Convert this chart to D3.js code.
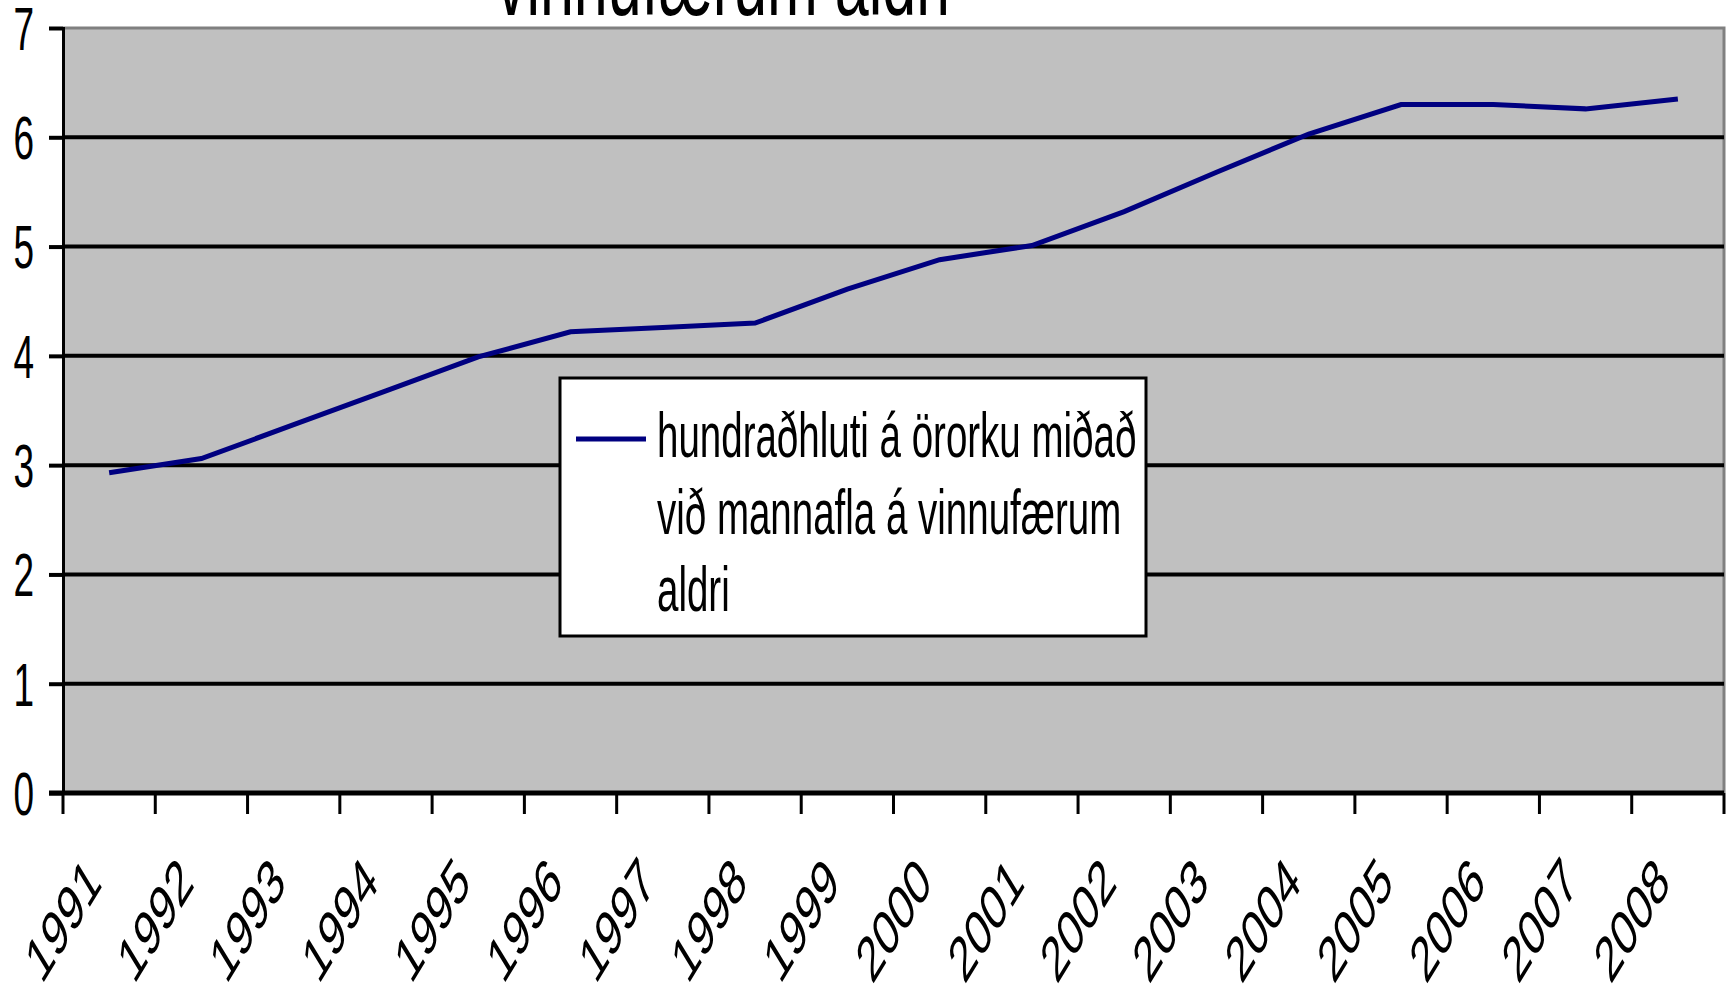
<!DOCTYPE html>
<html>
<head>
<meta charset="utf-8">
<script src="https://cdn.jsdelivr.net/npm/d3@7"></script>
<style>
  body { margin: 0; background: #fff; }
  text { font-family: "Liberation Sans", Arial, sans-serif; fill: #000; }
</style>
</head>
<body>
<div id="chart"></div>
<script>
// data
const years = ["1991","1992","1993","1994","1995","1996","1997","1998","1999",
               "2000","2001","2002","2003","2004","2005","2006","2007","2008"];
const values = [2.93, 3.06, 3.37, 3.68, 3.99, 4.22, 4.26, 4.30, 4.61,
                4.88, 5.01, 5.32, 5.68, 6.03, 6.30, 6.30, 6.26, 6.35];
const yTicks = [0, 1, 2, 3, 4, 5, 6, 7];
const titleLine = "vinnufærum aldri";
const legendLines = ["hundraðhluti á örorku miðað", "við mannafla á vinnufærum", "aldri"];

const width = 1736, height = 993;
const plot = {left: 63, right: 1724, top: 28, bottom: 793};
const stretch = 1.64; // the original picture is stretched vertically

const svg = d3.select("#chart").append("svg")
  .attr("width", width)
  .attr("height", height);

const x = d3.scaleBand().domain(years).range([plot.left, plot.right]);
const y = d3.scaleLinear().domain([0, 7]).range([plot.bottom, plot.top]);

// plot area
svg.append("rect")
  .attr("x", plot.left).attr("y", plot.top)
  .attr("width", plot.right - plot.left).attr("height", plot.bottom - plot.top)
  .attr("fill", "#c0c0c0");

// top and right border
svg.append("path")
  .attr("d", `M${plot.left},${plot.top}H${plot.right}V${plot.bottom}`)
  .attr("fill", "none").attr("stroke", "#808080").attr("stroke-width", 3);

// gridlines
svg.append("g").selectAll("line")
  .data(yTicks.filter(d => d > 0 && d < 7))
  .enter().append("line")
    .attr("x1", plot.left).attr("x2", plot.right)
    .attr("y1", d => y(d)).attr("y2", d => y(d))
    .attr("stroke", "#000").attr("stroke-width", 4);

// y axis
const yAxis = svg.append("g")
  .attr("transform", `translate(${plot.left},0)`)
  .call(d3.axisLeft(y).tickValues(yTicks).tickSize(14).tickFormat(""));
yAxis.selectAll("path").attr("stroke", "#000").attr("stroke-width", 3);
yAxis.selectAll(".tick line").attr("stroke", "#000").attr("stroke-width", 4);

svg.append("g").selectAll("text")
  .data(yTicks)
  .enter().append("text")
    .attr("transform", d => `translate(34,${y(d)}) scale(1,${stretch})`)
    .attr("text-anchor", "end")
    .attr("dy", "0.36em")
    .style("font-size", "37px")
    .text(d => d);

// x axis, ticks between categories
const xEdges = years.map(d => x(d)).concat([plot.right]);
svg.append("g").selectAll("line")
  .data(xEdges)
  .enter().append("line")
    .attr("x1", d => d).attr("x2", d => d)
    .attr("y1", plot.bottom).attr("y2", plot.bottom + 21)
    .attr("stroke", "#000").attr("stroke-width", 3);
svg.append("line")
  .attr("x1", plot.left - 14).attr("x2", plot.right)
  .attr("y1", plot.bottom).attr("y2", plot.bottom)
  .attr("stroke", "#000").attr("stroke-width", 5);

svg.append("g").selectAll("text")
  .data(years)
  .enter().append("text")
    .attr("transform", d => `translate(${x(d) + x.bandwidth() / 2 - 6},885) scale(1,${stretch}) rotate(-45)`)
    .attr("text-anchor", "end")
    .style("font-size", "39px")
    .text(d => d);

// the series
const line = d3.line()
  .x((d, i) => x(years[i]) + x.bandwidth() / 2)
  .y(d => y(d));
svg.append("path")
  .datum(values)
  .attr("d", line)
  .attr("fill", "none")
  .attr("stroke", "#000080")
  .attr("stroke-width", 5);

// legend
const lg = svg.append("g");
lg.append("rect")
  .attr("x", 560).attr("y", 378)
  .attr("width", 586).attr("height", 258)
  .attr("fill", "#fff").attr("stroke", "#000").attr("stroke-width", 3);
lg.append("line")
  .attr("x1", 576).attr("x2", 646).attr("y1", 439).attr("y2", 439)
  .attr("stroke", "#000080").attr("stroke-width", 5);
lg.selectAll("text")
  .data(legendLines)
  .enter().append("text")
    .attr("transform", (d, i) => `translate(657,${457 + i * 77}) scale(1,${stretch})`)
    .style("font-size", "38.5px")
    .text(d => d);

// title (only its last line shows)
svg.append("text")
  .attr("transform", `translate(723,15) scale(1,${stretch})`)
  .attr("text-anchor", "middle")
  .style("font-size", "61px")
  .text(titleLine);
</script>
</body>
</html>
